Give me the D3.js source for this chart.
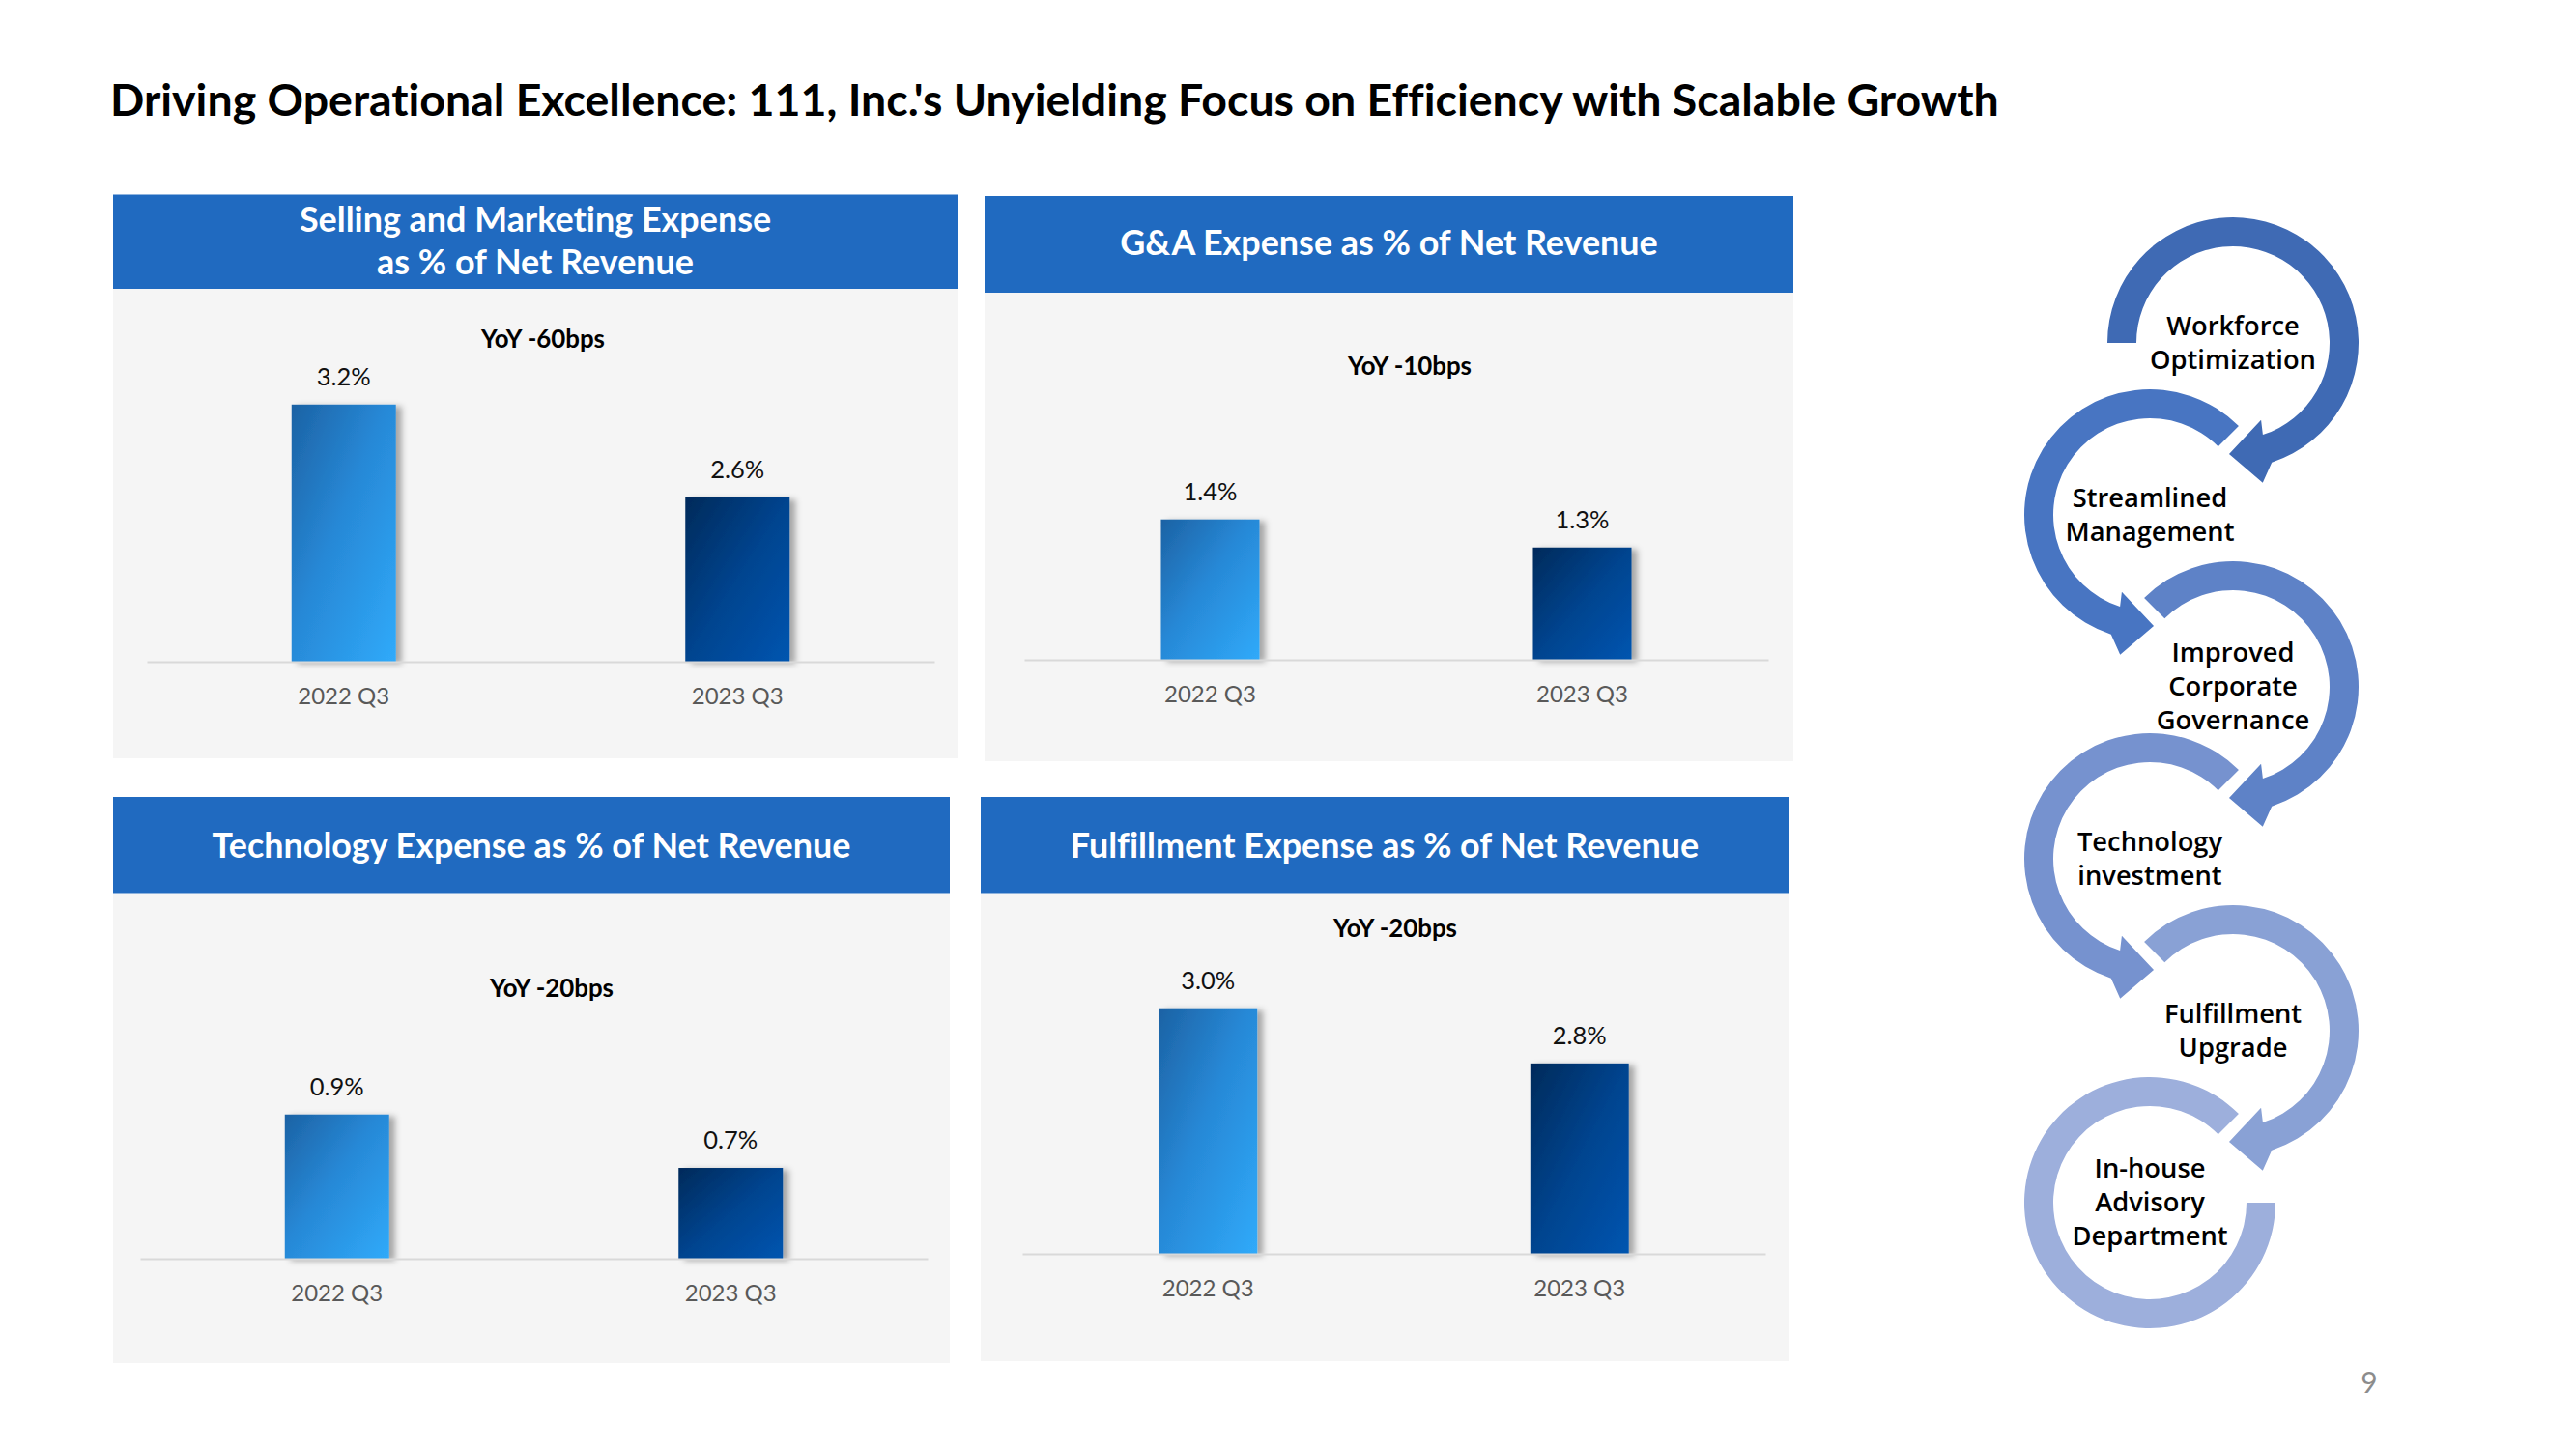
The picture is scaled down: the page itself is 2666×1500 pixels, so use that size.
<!DOCTYPE html>
<html><head><meta charset="utf-8">
<script src="https://cdn.jsdelivr.net/npm/d3@7"></script>
<style>body{margin:0;background:#fff;} svg{display:block;} text{font-variant-ligatures:none;font-feature-settings:"liga" 0,"clig" 0;}</style>
</head><body><svg id="c" width="2666" height="1500"></svg>
<script>
// ---------- DATA ----------
const pageTitle = "Driving Operational Excellence: 111, Inc.'s Unyielding Focus on Efficiency with Scalable Growth";
const categories = ["2022 Q3", "2023 Q3"];
const chartTitles = [
  ["Selling and Marketing Expense", "as % of Net Revenue"],
  ["G&A Expense as % of Net Revenue"],
  ["Technology Expense as % of Net Revenue"],
  ["Fulfillment Expense as % of Net Revenue"]
];
const sellingMarketing = [3.2, 2.6];
const generalAdmin = [1.4, 1.3];
const technology = [0.9, 0.7];
const fulfillment = [3.0, 2.8];
const yoyLabels = ["YoY -60bps", "YoY -10bps", "YoY -20bps", "YoY -20bps"];
const axisMin = [1.54, 0.90, 0.36, 2.11];
const axisMax = [3.66, 2.07, 1.59, 3.30];
const pillars = [
  ["Workforce", "Optimization"],
  ["Streamlined", "Management"],
  ["Improved", "Corporate", "Governance"],
  ["Technology", "investment"],
  ["Fulfillment", "Upgrade"],
  ["In-house", "Advisory", "Department"]
];
const pageNumber = "9";

// ---------- LAYOUT ----------
const seriesList = [sellingMarketing, generalAdmin, technology, fulfillment];
const panels = [
  {x0:117, x1:991,  hy0:201.5, hy1:299,   by1:785,  axisY:685,  ax0:152,  ax1:967,  yoyX:562,  yoyY:360,  titleY:[240,284]},
  {x0:1019,x1:1856, hy0:203,   hy1:303,   by1:788,  axisY:683,  ax0:1060, ax1:1830, yoyX:1459, yoyY:388,  titleY:[264]},
  {x0:117, x1:983,  hy0:825,   hy1:924.5, by1:1411, axisY:1303, ax0:145,  ax1:960,  yoyX:571,  yoyY:1032, titleY:[888]},
  {x0:1015,x1:1851, hy0:825,   hy1:924.5, by1:1409, axisY:1298, ax0:1058, ax1:1827, yoyX:1444, yoyY:970,  titleY:[888]}
];
const ringColors = ["#3F6AB4", "#4875C2", "#5E82C7", "#7692CF", "#89A1D5", "#9DAFDC"];

const CAL = "Lato, 'Open Sans', sans-serif";
const RINGFONT = "'Open Sans', 'Noto Sans', sans-serif";

const svg = d3.select("#c");

function fit(text, weight, family, target) {
  const t = svg.append("text").attr("font-family", family).attr("font-weight", weight)
    .attr("font-size", 100).text(text);
  const w = t.node().getComputedTextLength();
  t.remove();
  return 100 * target / w;
}

function draw() {
  const defs = svg.append("defs");
  const g1 = defs.append("linearGradient").attr("id","gLight").attr("x1",0).attr("y1",0).attr("x2",1).attr("y2",1);
  g1.append("stop").attr("offset","0%").attr("stop-color","#1C62A4");
  g1.append("stop").attr("offset","45%").attr("stop-color","#2788D6");
  g1.append("stop").attr("offset","100%").attr("stop-color","#30AAFA");
  const g2 = defs.append("linearGradient").attr("id","gDark").attr("x1",0).attr("y1",0).attr("x2",1).attr("y2",1);
  g2.append("stop").attr("offset","0%").attr("stop-color","#022A5A");
  g2.append("stop").attr("offset","50%").attr("stop-color","#02448F");
  g2.append("stop").attr("offset","100%").attr("stop-color","#0055B0");
  const f = defs.append("filter").attr("id","shadow").attr("x","-20%").attr("y","-10%").attr("width","160%").attr("height","130%");
  f.append("feDropShadow").attr("dx",6).attr("dy",2).attr("stdDeviation",3)
    .attr("flood-color","#000").attr("flood-opacity",0.32);

  // Title
  const titleSize = fit(pageTitle, 700, CAL, 1955);
  svg.append("text").attr("x",114).attr("y",120)
    .attr("font-family",CAL).attr("font-weight",700).attr("font-size",titleSize)
    .attr("fill","#000").text(pageTitle);

  const headerSize = fit(chartTitles[2][0], 700, CAL, 661);
  const yoySize = fit(yoyLabels[0], 700, CAL, 128);
  const valSize = fit("3.2%", 400, CAL, 56);
  const catSize = fit(categories[0], 400, CAL, 95);

  panels.forEach((p, i) => {
    const g = svg.append("g");
    g.append("rect").attr("x",p.x0).attr("y",p.hy1).attr("width",p.x1-p.x0).attr("height",p.by1-p.hy1).attr("fill","#F5F5F5");
    g.append("rect").attr("x",p.x0).attr("y",p.hy0).attr("width",p.x1-p.x0).attr("height",p.hy1-p.hy0).attr("fill","#206AC0");
    chartTitles[i].forEach((line, k) => {
      g.append("text").attr("x",(p.x0+p.x1)/2).attr("y",p.titleY[k]).attr("text-anchor","middle")
        .attr("font-family",CAL).attr("font-weight",700).attr("font-size",headerSize)
        .attr("fill","#fff").text(line);
    });

    const vals = seriesList[i];
    const x = d3.scaleBand().domain(categories).range([p.ax0, p.ax1]).paddingInner(0.735).paddingOuter(0.3675);
    const y = d3.scaleLinear().domain([axisMin[i], axisMax[i]]).range([p.axisY, p.axisY - 340]);

    g.selectAll("rect.bar").data(vals).join("rect").attr("class","bar")
      .attr("x",(d,j)=>x(categories[j])).attr("width",x.bandwidth())
      .attr("y",d=>y(d)).attr("height",d=>p.axisY - y(d))
      .attr("fill",(d,j)=> j===0 ? "url(#gLight)" : "url(#gDark)")
      .attr("filter","url(#shadow)");

    const ax = g.append("g").attr("transform",`translate(0,${p.axisY})`)
      .call(d3.axisBottom(x).tickSize(0).tickSizeOuter(0).tickPadding(44 - 0.71*catSize));
    ax.select(".domain").attr("stroke","#D9D9D9").attr("stroke-width",2);
    ax.selectAll("text").attr("font-family",CAL).attr("font-size",catSize).attr("fill","#595959");

    g.selectAll("text.val").data(vals).join("text").attr("class","val")
      .attr("x",(d,j)=>x(categories[j]) + x.bandwidth()/2).attr("y",d=>y(d) - 20)
      .attr("text-anchor","middle").attr("font-family",CAL).attr("font-size",valSize).attr("fill","#111")
      .text(d=>d.toFixed(1)+"%");

    g.append("text").attr("x",p.yoyX).attr("y",p.yoyY).attr("text-anchor","middle")
      .attr("font-family",CAL).attr("font-weight",700).attr("font-size",yoySize).attr("fill","#000")
      .text(yoyLabels[i]);
  });

  // Ring diagram
  const Ro = 130, Ri = 100, Rm = 115;
  const ringSize = fit("Optimization", 600, RINGFONT, 172);
  pillars.forEach((lines, i) => {
    const cx = i % 2 === 0 ? 2311 : 2225;
    const cy = 355 + i * 178;
    const pt = (r, a) => { const t = a*Math.PI/180; return [cx + r*Math.cos(t), cy + r*Math.sin(t)]; };
    let s, e, dir, arrow = true;
    if (i === 0) { s = 180; e = 432; dir = 1; }
    else if (i === 5) { s = -45; e = -360; dir = -1; arrow = false; }
    else if (i % 2 === 0) { s = 225; e = 432; dir = 1; }
    else { s = -45; e = -252; dir = -1; }
    const large = Math.abs(e - s) > 180 ? 1 : 0;
    const sw = dir > 0 ? 1 : 0;
    const q = pt(Ro, e);
    let d = `M${pt(Ro,s).join(",")} A${Ro},${Ro} 0 ${large} ${sw} ${q.join(",")}`;
    if (arrow) {
      d += ` L${pt(Ro+18, e + dir*6).join(",")} L${pt(Rm, e + dir*20).join(",")} L${pt(Ri-15, e - dir*2).join(",")}`;
    }
    d += ` L${pt(Ri,e).join(",")} A${Ri},${Ri} 0 ${large} ${1-sw} ${pt(Ri,s).join(",")} Z`;
    svg.append("path").attr("d", d).attr("fill", ringColors[i]);
    const n = lines.length;
    lines.forEach((line, k) => {
      svg.append("text").attr("x", cx).attr("y", cy + 9 + (k - (n-1)/2) * 35)
        .attr("text-anchor","middle").attr("font-family",RINGFONT).attr("font-weight",600)
        .attr("font-size",ringSize).attr("fill","#000").text(line);
    });
  });

  svg.append("text").attr("x",2452).attr("y",1442).attr("text-anchor","middle")
    .attr("font-family",CAL).attr("font-size",30).attr("fill","#8C8C8C").text(pageNumber);
}

if (document.fonts && document.fonts.ready) { document.fonts.ready.then(draw); } else { draw(); }
</script>
</body></html>
